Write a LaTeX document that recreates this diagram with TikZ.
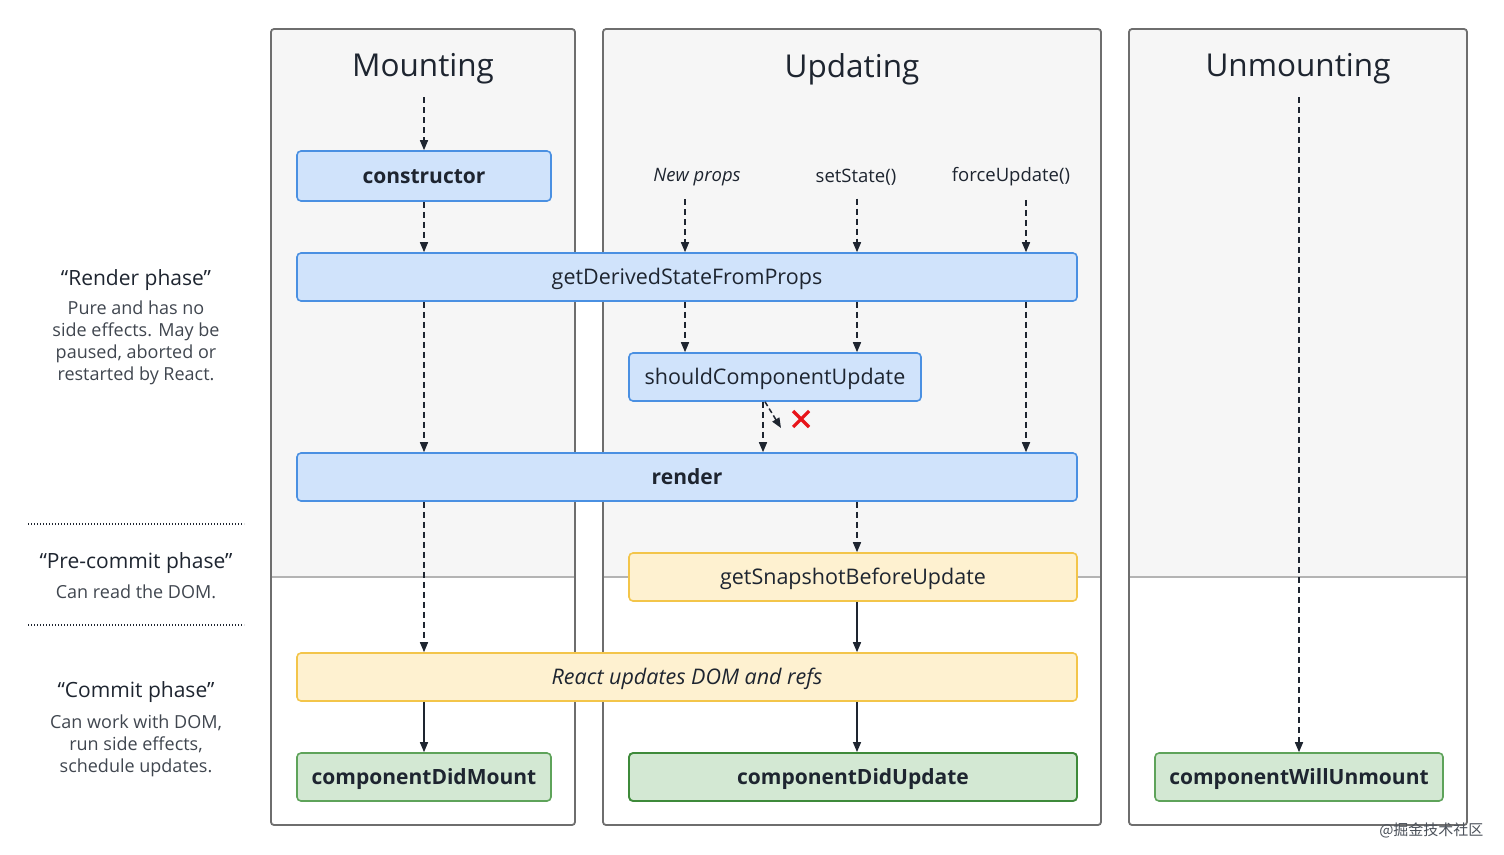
\documentclass[tikz,border=0pt]{standalone}
\usepackage{fontspec}
\setmainfont{Open Sans}
\newfontfamily\cjkfont{Noto Sans CJK SC}
\usetikzlibrary{arrows.meta}
\definecolor{txt}{HTML}{1E2530}
\definecolor{panelbg}{HTML}{F6F6F6}
\definecolor{panelln}{HTML}{6E6E6E}
\definecolor{divln}{HTML}{B4B4B4}
\definecolor{bluefill}{HTML}{D0E3FB}
\definecolor{blueln}{HTML}{4A90E2}
\definecolor{yelfill}{HTML}{FEF1D0}
\definecolor{yelln}{HTML}{F3C54A}
\definecolor{grnfill}{HTML}{D3E8D3}
\definecolor{grnln}{HTML}{5EA35A}
\definecolor{grndark}{HTML}{3E8A3A}
\definecolor{xred}{HTML}{E8141A}
\begin{document}
\begin{tikzpicture}[x=1pt,y=-1pt,
  lbox/.style={rounded corners=4pt, line width=1.6pt, inner sep=0pt, text=txt, text height=16pt, text depth=1pt, font=\fontsize{21.5}{26}\selectfont},
  boldtxt/.style={font=\fontsize{21}{26}\selectfont\bfseries},
  bluebox/.style={lbox, fill=bluefill, draw=blueln},
  yelbox/.style={lbox, fill=yelfill, draw=yelln},
  grnbox/.style={lbox, fill=grnfill, draw=grnln},
  head/.style={text=txt, font=\fontsize{31.5}{38}\selectfont},
  trig/.style={text=txt, font=\fontsize{18.5}{22}\selectfont},
  side/.style={text=txt!85, align=center, font=\fontsize{18}{22}\selectfont},
  sidehead/.style={text=txt, font=\fontsize{21}{25}\selectfont},
  darr/.style={draw=txt, line width=1.5pt, dash pattern=on 6pt off 4pt, -{Triangle[width=8pt,length=10pt]}},
  sarr/.style={draw=txt, line width=1.5pt, -{Triangle[width=8pt,length=10pt]}},
  panel/.style={draw=panelln, line width=1.8pt, rounded corners=3pt}
]
\useasboundingbox (0,0) rectangle (1504,854);
% panels
\foreach \xa/\xb in {271/575, 603/1101, 1129/1467}{
  \fill[panelbg] (\xa,29) rectangle (\xb,577);
  \draw[divln, line width=1.6pt] (\xa,577) -- (\xb,577);
  \draw[panel] (\xa,29) rectangle (\xb,825);
}
% headers
\node[head] (hm) at (423,69) {Mounting};
\node[head] (hu) at (852,69) {Updating};
\node[head] (hw) at (1298,69) {Unmounting};
% boxes
\node[bluebox, boldtxt, minimum width=254pt, minimum height=50pt] (ctor) at (424,176) {constructor};
\node[bluebox, minimum width=780pt, minimum height=48pt] (gdsfp) at (687,277) {getDerivedStateFromProps};
\node[bluebox, minimum width=292pt, minimum height=48pt] (scu) at (775,377) {shouldComponentUpdate};
\node[bluebox, boldtxt, minimum width=780pt, minimum height=48pt] (render) at (687,477) {render};
\node[yelbox, minimum width=448pt, minimum height=48pt] (gsbu) at (853,577) {getSnapshotBeforeUpdate};
\node[yelbox, minimum width=780pt, minimum height=48pt, font=\fontsize{21.5}{26}\selectfont\itshape] (rud) at (687,677) {React updates DOM and refs};
\node[grnbox, boldtxt, minimum width=254pt, minimum height=48pt] (cdm) at (424,777) {componentDidMount};
\node[grnbox, boldtxt, draw=grndark, line width=1.9pt, minimum width=448pt, minimum height=48pt] (cdu) at (853,777) {componentDidUpdate};
\node[grnbox, boldtxt, minimum width=288pt, minimum height=48pt] (cwu) at (1299,777) {componentWillUnmount};
% triggers
\node[trig, font=\fontsize{18.5}{22}\selectfont\itshape] (np) at (697,177) {New props};
\node[trig] (ss) at (856,177) {setState()};
\node[trig] (fu) at (1011,177) {forceUpdate()};
% x positions of connectors
\coordinate (xm) at (424,0);
\coordinate (xa) at (685,0);
\coordinate (xb) at (857,0);
\coordinate (xc) at (1026,0);
\coordinate (xd) at (763,0);
\coordinate (mstart) at (424,97);
\coordinate (wstart) at (1299,97);
% connectors
\draw[darr] (mstart) -- (ctor.north);
\draw[darr] (ctor.south) -- (gdsfp.north -| xm);
\draw[darr] (np.south -| xa) ++(0,10) -- (gdsfp.north -| xa);
\draw[darr] (ss.south -| xb) ++(0,10) -- (gdsfp.north -| xb);
\draw[darr] (fu.south -| xc) ++(0,10) -- (gdsfp.north -| xc);
\draw[darr] (gdsfp.south -| xm) -- (render.north -| xm);
\draw[darr] (gdsfp.south -| xa) -- (scu.north -| xa);
\draw[darr] (gdsfp.south -| xb) -- (scu.north -| xb);
\draw[darr] (gdsfp.south -| xc) -- (render.north -| xc);
\draw[darr] (scu.south -| xd) -- (render.north -| xd);
\coordinate (xend) at (781,428);
\draw[draw=txt, line width=1.5pt, dash pattern=on 5pt off 3pt, -{Triangle[width=8pt,length=10pt]}] ([xshift=2pt]scu.south -| xd) -- (xend);
\draw[darr] (render.south -| xm) -- (rud.north -| xm);
\draw[darr] (render.south -| xb) -- (gsbu.north -| xb);
\draw[sarr] (gsbu.south -| xb) -- (rud.north -| xb);
\draw[sarr] (rud.south -| xm) -- (cdm.north);
\draw[sarr] (rud.south -| xb) -- (cdu.north -| xb);
\draw[darr] (wstart) -- (cwu.north);
% red cross
\draw[xred, line width=3.2pt] (793,411) -- (809,427) (809,411) -- (793,427);
% side texts
\node[sidehead] (rp) at (136,280) {“Render phase”};
\node[side, anchor=north] (rpd) at (136,297) {Pure and has no\\side effects. May be\\paused, aborted or\\restarted by React.};
\draw[txt, line width=1.3pt, dash pattern=on 1.3pt off 1.7pt] (28,524) -- (244,524);
\node[sidehead] (pc) at (136,563) {“Pre-commit phase”};
\node[side] (pcd) at (136,592) {Can read the DOM.};
\draw[txt, line width=1.3pt, dash pattern=on 1.3pt off 1.7pt] (28,625) -- (244,625);
\node[sidehead] (cp) at (136,692) {“Commit phase”};
\node[side, anchor=north] (cpd) at (136,711) {Can work with DOM,\\run side effects,\\schedule updates.};
% watermark
\node[text=txt!80, font=\cjkfont\fontsize{15}{17}\selectfont, anchor=east] (wm) at (1487,830) {@掘金技术社区};
\end{tikzpicture}
\end{document}
